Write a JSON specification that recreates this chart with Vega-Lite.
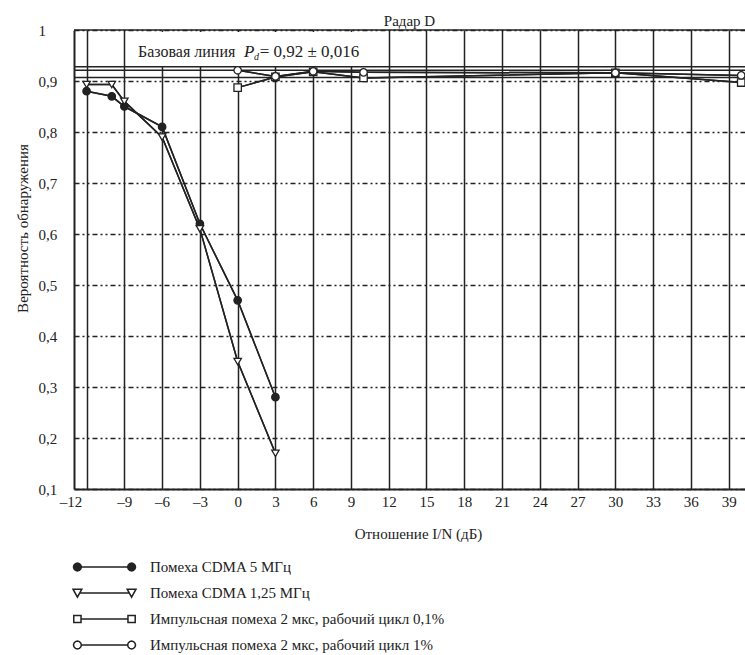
{
  "$schema": "https://vega.github.io/schema/vega-lite/v6.json",
  "width": 671,
  "height": 459,
  "autosize": {"type": "none"},
  "padding": {"left": 74, "top": 30, "right": 0, "bottom": 166},
  "background": "white",
  "config": {
    "view": {"stroke": null},
    "font": "Liberation Serif",
    "axis": {"labelFont": "Liberation Serif", "titleFont": "Liberation Serif", "labelColor": "#222", "titleColor": "#222", "titleFontWeight": "normal"}
  },
  "title": {"text": "Радар D", "font": "Liberation Serif", "fontSize": 15, "fontWeight": "normal", "color": "#222", "offset": -6},
  "datasets": {
    "pts": [
      {"series": "Помеха CDMA 5 МГц", "x": -12, "y": 0.88},
      {"series": "Помеха CDMA 5 МГц", "x": -10, "y": 0.87},
      {"series": "Помеха CDMA 5 МГц", "x": -9, "y": 0.85},
      {"series": "Помеха CDMA 5 МГц", "x": -6, "y": 0.81},
      {"series": "Помеха CDMA 5 МГц", "x": -3, "y": 0.62},
      {"series": "Помеха CDMA 5 МГц", "x": 0, "y": 0.47},
      {"series": "Помеха CDMA 5 МГц", "x": 3, "y": 0.28},
      {"series": "Помеха CDMA 1,25 МГц", "x": -12, "y": 0.893},
      {"series": "Помеха CDMA 1,25 МГц", "x": -10, "y": 0.893},
      {"series": "Помеха CDMA 1,25 МГц", "x": -9, "y": 0.86},
      {"series": "Помеха CDMA 1,25 МГц", "x": -6, "y": 0.79},
      {"series": "Помеха CDMA 1,25 МГц", "x": -3, "y": 0.61},
      {"series": "Помеха CDMA 1,25 МГц", "x": 0, "y": 0.35},
      {"series": "Помеха CDMA 1,25 МГц", "x": 3, "y": 0.17},
      {"series": "Импульсная помеха 2 мкс, рабочий цикл 0,1%", "x": 0, "y": 0.887},
      {"series": "Импульсная помеха 2 мкс, рабочий цикл 0,1%", "x": 3, "y": 0.908},
      {"series": "Импульсная помеха 2 мкс, рабочий цикл 0,1%", "x": 6, "y": 0.918},
      {"series": "Импульсная помеха 2 мкс, рабочий цикл 0,1%", "x": 10, "y": 0.906},
      {"series": "Импульсная помеха 2 мкс, рабочий цикл 0,1%", "x": 30, "y": 0.916},
      {"series": "Импульсная помеха 2 мкс, рабочий цикл 0,1%", "x": 40, "y": 0.897},
      {"series": "Импульсная помеха 2 мкс, рабочий цикл 1%", "x": 0, "y": 0.921},
      {"series": "Импульсная помеха 2 мкс, рабочий цикл 1%", "x": 3, "y": 0.909},
      {"series": "Импульсная помеха 2 мкс, рабочий цикл 1%", "x": 6, "y": 0.919},
      {"series": "Импульсная помеха 2 мкс, рабочий цикл 1%", "x": 10, "y": 0.917},
      {"series": "Импульсная помеха 2 мкс, рабочий цикл 1%", "x": 30, "y": 0.916},
      {"series": "Импульсная помеха 2 мкс, рабочий цикл 1%", "x": 40, "y": 0.911}
    ],
    "baseline": [
      {"level": "upper", "y": 0.928},
      {"level": "center", "y": 0.921},
      {"level": "lower", "y": 0.907}
    ]
  },
  "data": {"name": "pts"},
  "layer": [
    {
      "mark": {"type": "line", "color": "#222", "strokeWidth": 1.5},
      "encoding": {
        "x": {
          "field": "x", "type": "quantitative",
          "scale": {"domain": [-13, 40.3], "nice": false, "zero": false},
          "axis": {
            "values": [-12, -9, -6, -3, 0, 3, 6, 9, 12, 15, 18, 21, 24, 27, 30, 33, 36, 39],
            "tickCount": 40, "labelOverlap": false,
            "grid": true, "gridColor": "#222", "gridWidth": 1.5,
            "ticks": false, "domainColor": "#222", "domainWidth": 2,
            "labelFontSize": 15, "labelPadding": 5,
            "labelOffset": {"condition": {"test": "datum.value == -12", "value": -16}, "value": 0},
            "labelExpr": "datum.value < 0 ? '–' + abs(datum.value) : '' + datum.value",
            "title": "Отношение I/N (дБ)", "titleFontSize": 15,
            "titleX": 344, "titleY": 44, "titleBaseline": "middle"
          }
        },
        "y": {
          "field": "y", "type": "quantitative",
          "scale": {"domain": [0.1, 1], "nice": false, "zero": false},
          "axis": {
            "values": [0.1, 0.2, 0.3, 0.4, 0.5, 0.6, 0.7, 0.8, 0.9, 1],
            "tickCount": 20,
            "grid": true, "gridColor": "#222", "gridWidth": 1.3, "gridDash": [5, 3, 2, 3, 2, 3],
            "ticks": false, "domainColor": "#222", "domainWidth": 2,
            "labelFontSize": 15, "labelAlign": "left", "labelPadding": 36,
            "labelExpr": "replace(format(datum.value, '.1~f'), '.', ',')",
            "title": "Вероятность обнаружения", "titleFontSize": 15,
            "titleX": -47, "titleY": 198, "titleBaseline": "alphabetic", "titleAlign": "center"
          }
        },
        "detail": {"field": "series", "type": "nominal"}
      }
    },
    {
      "data": {"values": [{}]},
      "mark": {"type": "rect", "fill": "white"},
      "encoding": {
        "x": {"datum": -7.95}, "x2": {"datum": 9.6},
        "y": {"datum": 0.996}, "y2": {"datum": 0.9295}
      }
    },
    {
      "data": {"values": [{}]},
      "mark": {"type": "rule", "color": "#222", "strokeWidth": 1.5},
      "encoding": {"y": {"datum": 1}}
    },
    {
      "data": {"name": "baseline"},
      "mark": {"type": "rule", "color": "#222", "strokeWidth": 1.4},
      "encoding": {"y": {"field": "y", "type": "quantitative"}}
    },
    {
      "mark": {"type": "line", "color": "#222", "strokeWidth": 1.5},
      "encoding": {
        "x": {"field": "x", "type": "quantitative"},
        "y": {"field": "y", "type": "quantitative"},
        "detail": {"field": "series", "type": "nominal"}
      }
    },
    {
      "mark": {"type": "point", "stroke": "#222", "strokeWidth": 1.3, "size": 55, "opacity": 1},
      "encoding": {
        "x": {"field": "x", "type": "quantitative"},
        "y": {"field": "y", "type": "quantitative"},
        "shape": {
          "field": "series", "type": "nominal",
          "scale": {
            "domain": ["Помеха CDMA 5 МГц", "Помеха CDMA 1,25 МГц", "Импульсная помеха 2 мкс, рабочий цикл 0,1%", "Импульсная помеха 2 мкс, рабочий цикл 1%"],
            "range": ["circle", "triangle-down", "square", "circle"]
          },
          "legend": null
        },
        "fill": {
          "field": "series", "type": "nominal",
          "scale": {
            "domain": ["Помеха CDMA 5 МГц", "Помеха CDMA 1,25 МГц", "Импульсная помеха 2 мкс, рабочий цикл 0,1%", "Импульсная помеха 2 мкс, рабочий цикл 1%"],
            "range": ["#222", "white", "white", "white"]
          },
          "legend": null
        }
      }
    },
    {
      "mark": {"type": "point", "stroke": "#222", "opacity": 0},
      "encoding": {
        "x": {"field": "x", "type": "quantitative"},
        "y": {"field": "y", "type": "quantitative"},
        "shape": {
          "field": "series", "type": "nominal",
          "scale": {
            "domain": ["Помеха CDMA 5 МГц", "Помеха CDMA 1,25 МГц", "Импульсная помеха 2 мкс, рабочий цикл 0,1%", "Импульсная помеха 2 мкс, рабочий цикл 1%"],
            "range": [
              "M-0.735,0L0.735,0M-0.735,0L-0.752,0.0625L-0.7975,0.108L-0.86,0.125L-0.9225,0.108L-0.968,0.0625L-0.985,0L-0.968,-0.0625L-0.9225,-0.108L-0.86,-0.125L-0.7975,-0.108L-0.752,-0.0625ZM0.735,0L0.752,0.0625L0.7975,0.108L0.86,0.125L0.9225,0.108L0.968,0.0625L0.985,0L0.968,-0.0625L0.9225,-0.108L0.86,-0.125L0.7975,-0.108L0.752,-0.0625Z",
              "M-0.787,0L0.787,0M-1,-0.12L-0.72,-0.12L-0.86,0.13ZM0.72,-0.12L1,-0.12L0.86,0.13Z",
              "M-0.745,0L0.745,0M-0.975,-0.115L-0.745,-0.115L-0.745,0.115L-0.975,0.115ZM0.745,-0.115L0.975,-0.115L0.975,0.115L0.745,0.115Z",
              "M-0.735,0L0.735,0M-0.735,0L-0.752,0.0625L-0.7975,0.108L-0.86,0.125L-0.9225,0.108L-0.968,0.0625L-0.985,0L-0.968,-0.0625L-0.9225,-0.108L-0.86,-0.125L-0.7975,-0.108L-0.752,-0.0625ZM0.735,0L0.752,0.0625L0.7975,0.108L0.86,0.125L0.9225,0.108L0.968,0.0625L0.985,0L0.968,-0.0625L0.9225,-0.108L0.86,-0.125L0.7975,-0.108L0.752,-0.0625Z"
            ]
          },
          "legend": {
            "orient": "none", "legendX": -2, "legendY": 527, "title": null, "direction": "vertical",
            "symbolSize": 3969, "symbolStrokeWidth": 1.5, "symbolStrokeColor": "#222", "symbolFillColor": "white", "symbolOpacity": 1,
            "clipHeight": 20, "rowPadding": 6, "padding": 0,
            "labelFont": "Liberation Serif", "labelFontSize": 15, "labelColor": "#222", "labelOffset": 13, "labelLimit": 500
          }
        },
        "fill": {
          "field": "series", "type": "nominal",
          "scale": {
            "domain": ["Помеха CDMA 5 МГц", "Помеха CDMA 1,25 МГц", "Импульсная помеха 2 мкс, рабочий цикл 0,1%", "Импульсная помеха 2 мкс, рабочий цикл 1%"],
            "range": ["#222", "white", "white", "white"]
          },
          "legend": {
            "orient": "none", "legendX": -2, "legendY": 527, "title": null, "direction": "vertical",
            "symbolSize": 3969, "symbolStrokeWidth": 1.5, "symbolStrokeColor": "#222", "symbolFillColor": "white", "symbolOpacity": 1,
            "clipHeight": 20, "rowPadding": 6, "padding": 0,
            "labelFont": "Liberation Serif", "labelFontSize": 15, "labelColor": "#222", "labelOffset": 13, "labelLimit": 500
          }
        }
      }
    },
    {
      "data": {"values": [{}]},
      "mark": {"type": "text", "align": "left", "baseline": "alphabetic", "font": "Liberation Serif", "fontSize": 16, "color": "#222"},
      "encoding": {"x": {"datum": -7.92}, "y": {"datum": 0.947}, "text": {"value": "Базовая линия"}}
    },
    {
      "data": {"values": [{}]},
      "mark": {"type": "text", "align": "left", "baseline": "alphabetic", "font": "Liberation Serif", "fontSize": 17, "fontStyle": "italic", "color": "#222"},
      "encoding": {"x": {"datum": 0.5}, "y": {"datum": 0.947}, "text": {"value": "P"}}
    },
    {
      "data": {"values": [{}]},
      "mark": {"type": "text", "align": "left", "baseline": "alphabetic", "font": "Liberation Serif", "fontSize": 10, "fontStyle": "italic", "color": "#222"},
      "encoding": {"x": {"datum": 1.3}, "y": {"datum": 0.941}, "text": {"value": "d"}}
    },
    {
      "data": {"values": [{}]},
      "mark": {"type": "text", "align": "left", "baseline": "alphabetic", "font": "Liberation Serif", "fontSize": 17, "color": "#222"},
      "encoding": {"x": {"datum": 1.75}, "y": {"datum": 0.947}, "text": {"value": "= 0,92 ± 0,016"}}
    }
  ],
  "resolve": {
    "scale": {"shape": "independent", "fill": "independent"},
    "legend": {"shape": "independent", "fill": "independent"}
  }
}
